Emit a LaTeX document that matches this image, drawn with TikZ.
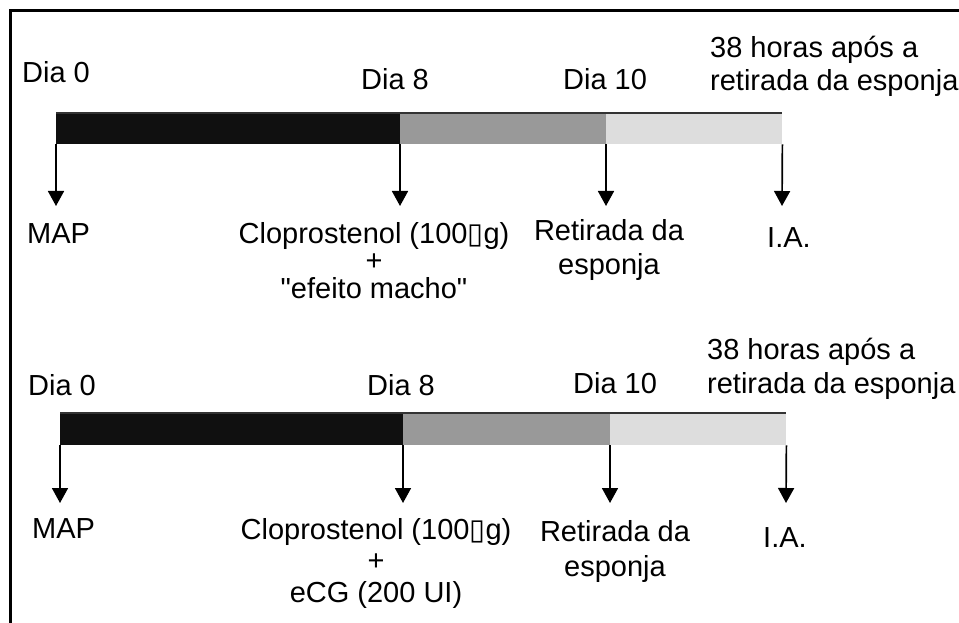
\documentclass[tikz,border=0pt]{standalone}
\usepackage{fontspec}
\setmainfont{Liberation Sans}
\newfontfamily\simbfont{DejaVu Sans}
\usetikzlibrary{arrows.meta}
\definecolor{fasepreta}{HTML}{101010}
\definecolor{faseescura}{HTML}{999999}
\definecolor{faseclara}{HTML}{DDDDDD}
\newcommand{\caixinha}{{\simbfont ▯}}
\begin{document}
\begin{tikzpicture}[
			x=1pt, y=-1pt,
			font=\fontsize{29}{34}\selectfont,
			rot/.style={inner sep=0pt},
			fase/.style={inner sep=0pt, minimum height=31pt, anchor=north west},
			borda/.style={line width=1.5pt, draw=black!80},
			seta/.style={-{Triangle[width=16pt, length=15pt]}, line width=1.7pt},
			moldura/.style={line width=3pt}
		]
		\useasboundingbox (0,0) rectangle (959,623);
		\draw[moldura] (10,623) -- (10,11) -- (959,11);

		% protocolo 1
		\node[fase, fill=fasepreta, minimum width=344pt] (preta1) at (56,113) {};
		\node[fase, fill=faseescura, minimum width=206pt] (escura1) at (400,113) {};
		\node[fase, fill=faseclara, minimum width=176pt] (clara1) at (606,113) {};
		\draw[borda] (preta1.north west) -- (clara1.north east);

		\node[rot, anchor=base west] (diaA0) at (22,83) {Dia 0};
		\node[rot, anchor=base west] (diaA8) at (361,90) {Dia 8};
		\node[rot, anchor=base west] (diaA10) at (563,90) {Dia 10};
		\node[rot, anchor=north west, align=left, font=\fontsize{29}{33}\selectfont] (horasA) at (710,36) {38 horas após a\\retirada da esponja};

		\node[rot, anchor=base west] (mapA) at (27,243) {MAP};
		\node[rot, anchor=north, align=center, font=\fontsize{29}{27.5}\selectfont] (clopA) at (374,222) {Cloprostenol (100\caixinha g)\\+\\\textquotedbl efeito macho\textquotedbl};
		\node[rot, anchor=north, align=center] (retA) at (609,219) {Retirada da\\esponja};
		\node[rot, anchor=base west] (iaA) at (767,247) {I.A.};

		\coordinate (sA0) at (56,206);
		\coordinate (sA8) at (400,206);
		\coordinate (sA10) at (606,206);
		\coordinate (sAia) at (782,206);
		\draw[seta] (preta1.south west) -- (sA0);
		\draw[seta] (escura1.south west) -- (sA8);
		\draw[seta] (clara1.south west) -- (sA10);
		\draw[seta] (clara1.south east) -- (sAia);

		% protocolo 2
		\node[fase, fill=fasepreta, minimum width=343pt, minimum height=32pt] (preta2) at (60,413) {};
		\node[fase, fill=faseescura, minimum width=207pt, minimum height=32pt] (escura2) at (403,413) {};
		\node[fase, fill=faseclara, minimum width=176pt, minimum height=32pt] (clara2) at (610,413) {};
		\draw[borda] (preta2.north west) -- (clara2.north east);

		\node[rot, anchor=base west] (diaB0) at (28,395) {Dia 0};
		\node[rot, anchor=base west] (diaB8) at (367,395) {Dia 8};
		\node[rot, anchor=base west] (diaB10) at (573,393) {Dia 10};
		\node[rot, anchor=north west, align=left] (horasB) at (707,338) {38 horas após a\\retirada da esponja};

		\node[rot, anchor=base west] (mapB) at (32,538) {MAP};
		\node[rot, anchor=north, align=center, font=\fontsize{29}{31.5}\selectfont] (clopB) at (376,518) {Cloprostenol (100\caixinha g)\\+\\eCG (200 UI)};
		\node[rot, anchor=north, align=center, font=\fontsize{29}{35}\selectfont] (retB) at (615,520) {Retirada da\\esponja};
		\node[rot, anchor=base west] (iaB) at (763,547) {I.A.};

		\coordinate (sB0) at (60,503);
		\coordinate (sB8) at (403,503);
		\coordinate (sB10) at (610,503);
		\coordinate (sBia) at (786,503);
		\draw[seta] (preta2.south west) -- (sB0);
		\draw[seta] (escura2.south west) -- (sB8);
		\draw[seta] (clara2.south west) -- (sB10);
		\draw[seta] (clara2.south east) -- (sBia);
	\end{tikzpicture}
\end{document}
